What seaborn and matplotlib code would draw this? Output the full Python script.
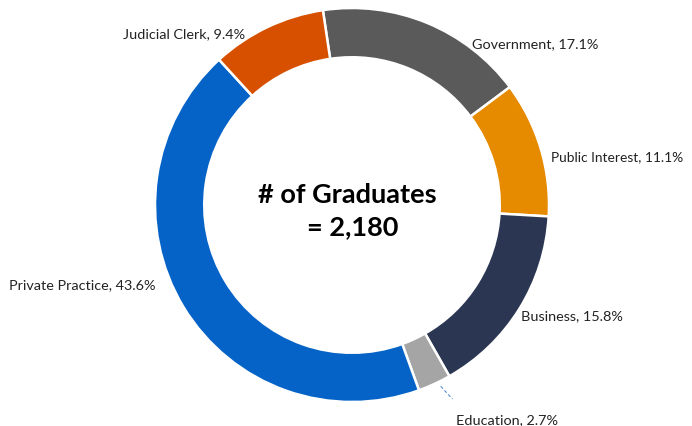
import numpy as np
import seaborn as sns
import matplotlib.pyplot as plt

# data, clockwise from the top
categories = ["Government", "Public Interest", "Business", "Education",
              "Private Practice", "Judicial Clerk"]
shares = [17.1, 11.1, 15.8, 2.7, 43.6, 9.4]
total_grads = 2180
colors = ["#5A5A5A", "#E68A00", "#2B3752", "#A5A5A5", "#0563C7", "#D65000"]

sns.set_theme(style="white")
plt.rcParams['font.family'] = ['Lato', 'DejaVu Sans']

fig = plt.figure(figsize=(6.92, 4.27), dpi=100)
ax = fig.add_axes([0, 0, 1, 1])

wedges, _ = ax.pie(shares, colors=sns.color_palette(colors), startangle=98.5,
                   counterclock=False, radius=1.0,
                   wedgeprops=dict(width=0.25, edgecolor="white", linewidth=1.8))

# label anchors (in radius units) and alignment, tuned by eye
label_pos = {
    "Judicial Clerk": (-0.54, 0.87, "right"),
    "Government": (0.61, 0.82, "left"),
    "Public Interest": (1.01, 0.25, "left"),
    "Business": (0.86, -0.56, "left"),
    "Education": (0.53, -1.085, "left"),
    "Private Practice": (-1.74, -0.40, "left"),
}
for cat, val in zip(categories, shares):
    x, y, ha = label_pos[cat]
    size = 9.9 if cat == "Public Interest" else 10.4
    ax.text(x, y, f"{cat}, {val}%", ha=ha, va="center", fontsize=size, color="#222222")

# leader line for the small slice
ax.plot([0.45, 0.51], [-0.92, -0.985], color="#5B8DD6", lw=0.8, ls=(0, (3, 2)))

ax.text(-0.023, 0.056, "# of Graduates", ha="center", va="center",
        fontsize=19.5, fontweight="bold", color="black")
ax.text(0.003, -0.107, f"= {total_grads:,}", ha="center", va="center",
        fontsize=19.5, fontweight="bold", color="black")

ax.set_xlim(-352 / 197, 340 / 197)
ax.set_ylim(-221 / 197, 206 / 197)
ax.set_aspect("auto")
ax.axis("off")

fig.savefig("out.png", dpi=100, facecolor="white")
